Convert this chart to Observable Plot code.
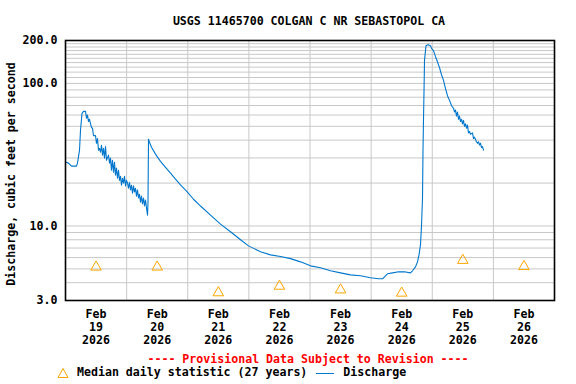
<!DOCTYPE html>
<html>
<head>
<meta charset="utf-8">
<script src="https://cdn.jsdelivr.net/npm/d3@7"></script>
<script src="https://cdn.jsdelivr.net/npm/@observablehq/plot@0.6"></script>
<style>
  body { margin: 0; background: #fff; }
  #wrap { position: relative; width: 576px; height: 384px; font-family: "DejaVu Sans Mono", monospace; font-weight: bold; font-size: 11.6px; }
  #chart { position: absolute; left: 0; top: 0; }
  .abs { position: absolute; white-space: pre; line-height: 1; }
  #ylab { left: 12px; top: 174px; transform: translate(-50%, -50%) rotate(-90deg); }
</style>
</head>
<body>
<div id="wrap">
  <div id="chart"></div>
  <div class="abs" id="title" style="left:0; width:618px; text-align:center; top:16px;"></div>
  <div class="abs" id="ylab"></div>
  <div class="abs" id="prov" style="left:0; width:616px; text-align:center; top:354px; color:#ff0000;"></div>
  <div class="abs" id="legend" style="left:57px; top:367px; display:flex; align-items:center;">
    <svg width="12" height="12" style="margin-right:8px"><path d="M6,1.5L11,10.5L1,10.5Z" fill="none" stroke="orange" stroke-width="1"/></svg><span id="lg1"></span><svg width="24" height="12" style="margin:0 4px 0 8px"><line x1="1" x2="19" y1="6.5" y2="6.5" stroke="#0077cc" stroke-width="1"/></svg><span id="lg2"></span>
  </div>
</div>
<script>
// ---- Data ----
const titleText = "USGS 11465700 COLGAN C NR SEBASTOPOL CA";
const provText = "---- Provisional Data Subject to Revision ----";
const startDate = "2026-02-19";
const dayLabels = ["19", "20", "21", "22", "23", "24", "25", "26"];
const monthLabel = "Feb";
const yearLabel = "2026";
const medianCfs = [5.15, 5.15, 3.4, 3.78, 3.56, 3.38, 5.74, 5.2];
const yTicks = [3, 10, 100, 200];
const yGrid = [4, 5, 6, 7, 8, 9, 20, 30, 40, 50, 60, 70, 80, 90, 110, 120, 130, 140, 150, 160, 170, 180, 190];
const legendMedian = "Median daily statistic (27 years)";
const legendDischarge = "Discharge";
const yLabel = "Discharge, cubic feet per second";

// hours since Feb 19 00:00
const dischargeHours = [
  0, 1.18, 2.36, 4.32, 4.71, 5.50, 5.89, 6.48, 7.07, 7.85, 8.25, 8.64, 9.03, 9.42, 10.21, 10.60, 10.99, 11.78,
  12.17, 12.56, 12.96, 13.35, 13.74, 14.14, 14.53, 14.92, 15.31, 15.71, 16.10, 16.88, 17.28, 17.67, 18.06, 18.45,
  18.85, 19.24, 19.63, 20.02, 20.42, 20.81, 21.20, 21.60, 21.99, 22.38, 22.77, 23.17, 23.56, 23.95, 24.34, 24.74,
  25.13, 25.52, 25.91, 26.31, 26.70, 27.09, 27.48, 27.88, 28.27, 28.66, 29.06, 29.45, 29.84, 30.23, 30.63, 31.02,
  31.41, 31.80, 32.20, 32.39, 32.59, 32.98, 33.77, 35.34, 37.30, 39.26, 41.23, 43.19, 45.15, 47.90, 50.26, 53.02,
  56.94, 60.87, 64.79, 68.72, 71.86, 76.57, 80.50, 84.43, 88.34, 92.27, 96.20, 100.12, 104.05, 107.98, 111.90,
  115.83, 119.76, 122.90, 124.47, 125.25, 126.43, 128.39, 130.36, 133.50, 135.46, 136.25, 137.42, 138.21, 138.80,
  139.39, 139.78, 140.17, 140.37, 140.57, 140.77, 140.96, 141.55, 142.34, 143.31, 143.71, 144.49, 145.28, 146.06,
  146.85, 147.64, 148.42, 149.20, 149.99, 150.77, 151.56, 151.95, 152.34, 152.74, 153.13, 153.52, 153.91, 154.31,
  154.70, 155.09, 155.49, 155.88, 156.27, 156.66, 157.06, 157.45, 157.84, 158.23, 158.63, 159.02, 159.81, 160.20,
  160.59, 161.38, 161.77, 162.16, 162.55, 162.95, 163.34, 163.73, 164.12
];
const dischargeCfs = [
  28.1, 27.6, 26.3, 26.3, 27.6, 34, 46.9, 61.6, 63.7, 63.7, 57, 60, 54, 56, 49, 48.5, 43, 43,
  38, 41, 34, 35, 32.9, 36.8, 31.4, 35, 29.9, 36, 28.9, 31.4, 27.6, 29.9, 24.6, 28.9,
  23.8, 28, 22.7, 25.5, 21.6, 24.6, 20.9, 22.3, 19.3, 21.6, 20, 22.3, 19.1, 20.9, 20, 18.4,
  20.2, 17.9, 19.3, 17, 19.1, 17.3, 18.4, 16.2, 17.9, 15.7, 16.7, 14.7, 16.2, 14.3, 15.7, 13.8,
  15.2, 13.4, 11.9, 14.5, 40.6, 38.7, 35.7, 31.9, 28.4, 25.8, 23.5, 21.3, 19.4, 17.3, 15.4, 13.8,
  11.9, 10.3, 9.1, 8.0, 7.25, 6.6, 6.27, 6.1, 5.9, 5.6, 5.25, 5.09, 4.85, 4.69, 4.54,
  4.47, 4.33, 4.26, 4.26, 4.4, 4.62, 4.69, 4.76, 4.76, 4.69, 4.85, 5.17, 5.6, 6.27,
  7.4, 10, 15.6, 34, 56.8, 89, 145, 184, 187, 184, 176, 170, 154, 142,
  129, 115, 105, 92, 82, 76, 70, 68, 67, 63, 65, 59, 63, 56,
  59, 54, 56, 52, 55, 50, 52, 48.5, 51, 45, 46, 44, 45, 41,
  42, 39, 38, 39, 37, 38, 35.5, 36, 34
];

// ---- Build ----
const t0 = new Date(startDate + "T00:00:00Z").getTime();
const HOUR = 3600e3, DAY = 864e5;
const discharge = dischargeHours.map((h, i) => ({date: new Date(t0 + h * HOUR), cfs: dischargeCfs[i]}));
const median = dayLabels.map((d, i) => ({date: new Date(t0 + i * DAY + 12 * HOUR), cfs: medianCfs[i], label: `${monthLabel}\n${d}\n${yearLabel}`}));
const midnights = dayLabels.slice(1).map((d, i) => new Date(t0 + (i + 1) * DAY));

document.getElementById("title").textContent = titleText;
document.getElementById("prov").textContent = provText;
document.getElementById("ylab").textContent = yLabel;
document.getElementById("lg1").textContent = legendMedian;
document.getElementById("lg2").textContent = legendDischarge;

const gridColor = "#c8c8c8";
const chart = Plot.plot({
  width: 576,
  height: 384,
  marginTop: 40,
  marginLeft: 65,
  marginRight: 22,
  marginBottom: 84,
  style: {fontFamily: "DejaVu Sans Mono, monospace", fontWeight: "bold", fontSize: "11.6px", background: "white"},
  x: {type: "utc", domain: [new Date(t0), new Date(t0 + 8 * DAY)], axis: null},
  y: {type: "log", domain: [3, 200]},
  marks: [
    Plot.ruleY(yGrid, {stroke: gridColor, strokeWidth: 1}),
    Plot.ruleY(yTicks, {stroke: gridColor, strokeWidth: 1}),
    Plot.ruleX(midnights, {stroke: gridColor, strokeWidth: 1}),
    Plot.axisY({ticks: yTicks, tickFormat: d3.format(".1f"), tickSize: 0, tickPadding: 8, label: null, fill: "black"}),
    Plot.text(median, {x: "date", text: "label", frameAnchor: "bottom", lineAnchor: "top", dy: 8, lineHeight: 1.12, fill: "black"}),
    Plot.line(discharge, {x: "date", y: "cfs", stroke: "#0077cc", strokeWidth: 1.1}),
    Plot.dot(median, {x: "date", y: "cfs", symbol: "triangle", r: 3.9, stroke: "orange", fill: "none", strokeWidth: 1}),
    Plot.frame({stroke: "black", strokeWidth: 1.6})
  ]
});
document.getElementById("chart").appendChild(chart);
</script>
</body>
</html>
